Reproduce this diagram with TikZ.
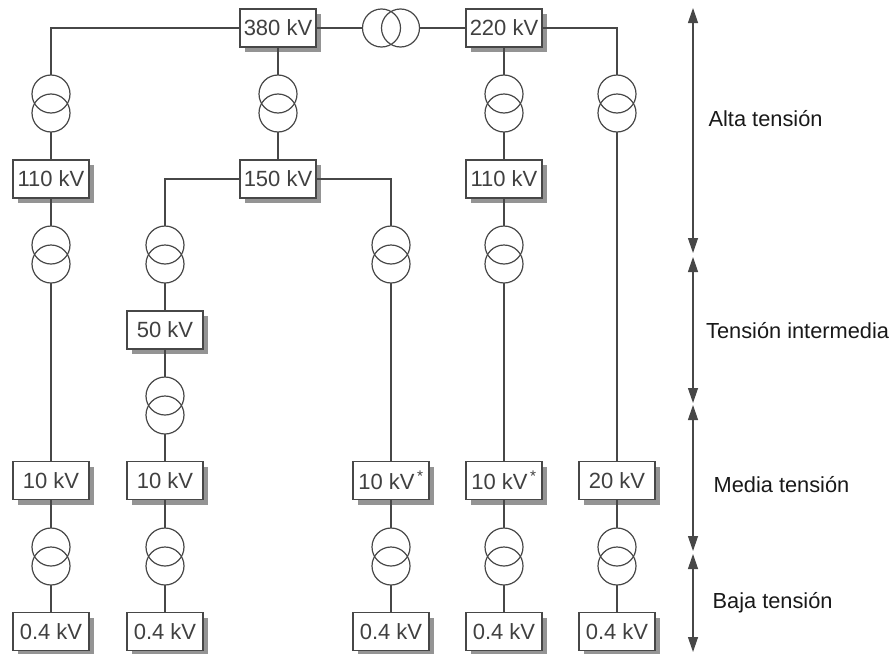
\documentclass[tikz,border=0pt]{standalone}
\usepackage{fontspec}
\setmainfont{Liberation Sans}
\usetikzlibrary{positioning,arrows.meta,shadows}

\begin{document}
\begin{tikzpicture}[
    x=1pt, y=1pt,
    line width=1.2pt,
    wire/.style={draw=black!72},
    kv/.style={draw=black!72, fill=white, minimum width=76pt, minimum height=38pt, inner sep=0pt,
               outer sep=0pt, text=black!75, font=\fontsize{22}{24}\selectfont,
               drop shadow={shadow xshift=5pt, shadow yshift=-5pt, fill=black!42, opacity=1}},
    coil/.style={circle, draw=black!72, minimum size=38pt, inner sep=0pt, outer sep=0pt},
    level/.style={wire, {Stealth[length=15pt, width=10pt, inset=0pt]}-{Stealth[length=15pt, width=10pt, inset=0pt]}},
    lab/.style={anchor=base west, inner sep=0pt, text=black!90, font=\fontsize{21.8}{24}\selectfont},
  ]
  \useasboundingbox (0,0) rectangle (893,-653);

  % ===== voltage boxes =====
  \node[kv] (kv380) at (278,-28) {380 kV};
  \node[kv, right=150pt of kv380] (kv220) {220 kV};
  \node[kv, below=113pt of kv380] (kv150) {150 kV};
  \node[kv, left=151pt of kv150] (kv110a) {110 kV};
  \node[kv, right=150pt of kv150] (kv110b) {110 kV};
  \node[kv] (kv50) at (165,-330) {50 kV};

  \node[kv] (kv10a) at (51,-480.5) {10 kV};
  \node[kv, right=38pt of kv10a] (kv10b) {10 kV};
  \node[kv, right=150pt of kv10b] (kv10c) {10 kV\textsuperscript{\,*}};
  \node[kv, right=37pt of kv10c] (kv10d) {10 kV\textsuperscript{\,*}};
  \node[kv, right=37pt of kv10d] (kv20) {20 kV};

  \foreach \up/\low in {kv10a/lva, kv10b/lvb, kv10c/lvc, kv10d/lvd, kv20/lve}
    \node[kv, below=113pt of \up] (\low) {0.4 kV};

  % ===== transformers =====
  \foreach \tr/\x/\y in {t110a/51/94, t380/278/94, t220/504/94, t20/617/94,
                         t10a/51/245, t50/165/245, t10c/391/245, t10d/504/245,
                         t10b/165/396,
                         la/51/547, lb/165/547, lc/391/547, ld/504/547, le/617/547} {
    \node[coil] (\tr u) at (\x,-\y) {};
    \node[coil] (\tr d) at (\x,-\y-19) {};
  }
  \node[coil] (thl) at (381.5,-28) {};
  \node[coil] (thr) at (400.5,-28) {};

  % ===== connectors =====
  \draw[wire] (kv380) -- (thl);
  \draw[wire] (thr) -- (kv220);
  \draw[wire] (kv380) -| (t110au);
  \draw[wire] (kv220) -| (t20u);
  \draw[wire] (kv150) -| (t50u);
  \draw[wire] (kv150) -| (t10cu);
  \foreach \a/\b in {kv380/t380u, t380d/kv150, t110ad/kv110a, kv220/t220u, t220d/kv110b, t20d/kv20,
                     kv110a/t10au, t10ad/kv10a, t50d/kv50, kv50/t10bu, t10bd/kv10b,
                     t10cd/kv10c, kv110b/t10du, t10dd/kv10d,
                     kv10a/lau, lad/lva, kv10b/lbu, lbd/lvb, kv10c/lcu, lcd/lvc,
                     kv10d/ldu, ldd/lvd, kv20/leu, led/lve}
    \draw[wire] (\a) -- (\b);

  % ===== voltage levels (right) =====
  \coordinate (lv0) at (693,-8);
  \coordinate (lv1) at (693,-253);
  \coordinate (lv2) at (693,-257);
  \coordinate (lv3) at (693,-403);
  \coordinate (lv4) at (693,-405);
  \coordinate (lv5) at (693,-551);
  \coordinate (lv6) at (693,-554);
  \coordinate (lv7) at (693,-652);
  \draw[level] (lv0) -- (lv1);
  \draw[level] (lv2) -- (lv3);
  \draw[level] (lv4) -- (lv5);
  \draw[level] (lv6) -- (lv7);

  \node[lab] (alta) at (708,-126) {Alta tensión};
  \node[lab] (inter) at (705.5,-338) {Tensión intermedia};
  \node[lab] (media) at (713,-492) {Media tensión};
  \node[lab] (baja) at (712,-608) {Baja tensión};

\end{tikzpicture}
\end{document}
